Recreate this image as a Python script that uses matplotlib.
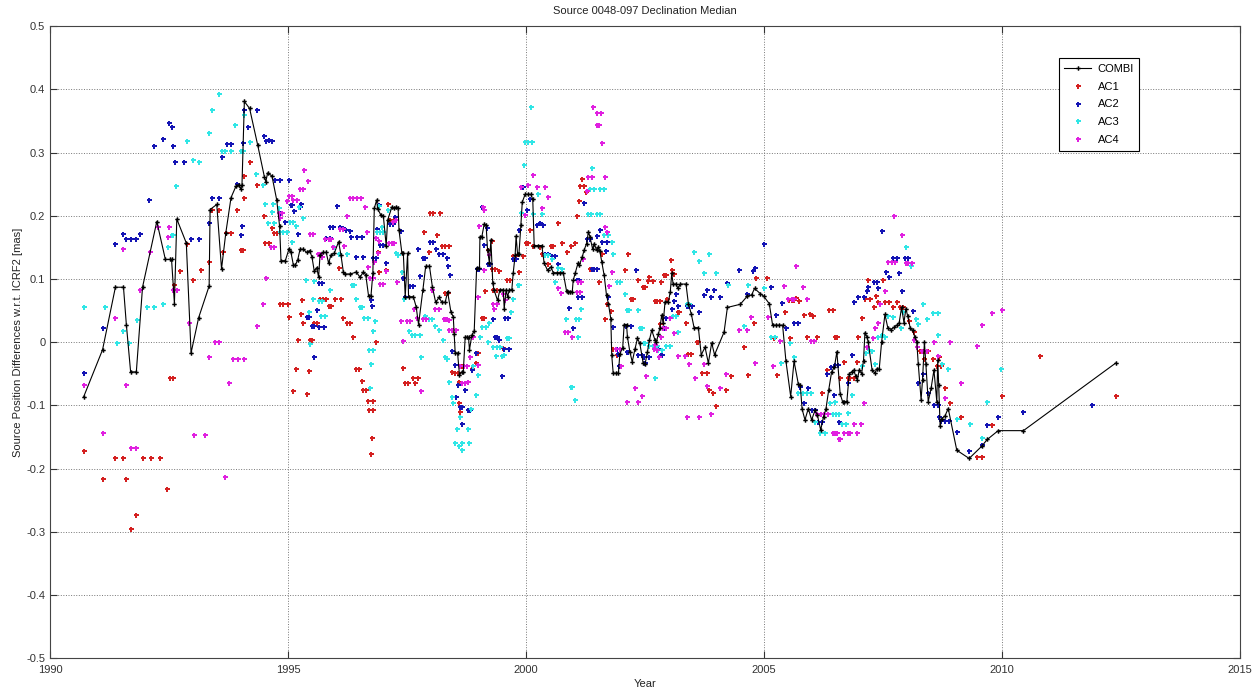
import matplotlib
matplotlib.use("Agg")
import matplotlib.pyplot as plt
from matplotlib.ticker import FormatStrFormatter

plt.rcParams['font.family'] = ['Liberation Sans', 'DejaVu Sans']

# COMBI median series (year, mas)
combi = [
    (1990.70, -0.087), (1991.10, -0.012), (1991.37, 0.087), (1991.54, 0.087), (1991.60, 0.028),
    (1991.69, -0.047), (1991.81, -0.047), (1991.94, 0.087), (1992.24, 0.191), (1992.42, 0.131),
    (1992.52, 0.131), (1992.55, 0.131), (1992.61, 0.061), (1992.66, 0.195), (1992.86, 0.157),
    (1992.96, -0.017), (1993.12, 0.039), (1993.34, 0.089), (1993.36, 0.210), (1993.50, 0.218),
    (1993.60, 0.116), (1993.69, 0.173), (1993.80, 0.229), (1993.91, 0.248), (1993.96, 0.249),
    (1994.00, 0.243), (1994.03, 0.249), (1994.08, 0.381), (1994.19, 0.370), (1994.36, 0.312),
    (1994.50, 0.262), (1994.53, 0.254), (1994.57, 0.268), (1994.66, 0.263), (1994.76, 0.225),
    (1994.82, 0.184), (1994.85, 0.129), (1994.94, 0.129), (1995.02, 0.148), (1995.06, 0.142),
    (1995.11, 0.122), (1995.15, 0.122), (1995.20, 0.130), (1995.25, 0.147), (1995.32, 0.147),
    (1995.39, 0.142), (1995.45, 0.145), (1995.50, 0.135), (1995.55, 0.112), (1995.60, 0.118),
    (1995.64, 0.103), (1995.67, 0.138), (1995.73, 0.142), (1995.80, 0.142), (1995.85, 0.125),
    (1995.90, 0.138), (1995.97, 0.141), (1996.06, 0.159), (1996.11, 0.138), (1996.16, 0.111),
    (1996.20, 0.108), (1996.31, 0.108), (1996.43, 0.111), (1996.51, 0.103), (1996.58, 0.111),
    (1996.63, 0.107), (1996.69, 0.073), (1996.74, 0.073), (1996.78, 0.109), (1996.81, 0.212),
    (1996.86, 0.225), (1996.88, 0.211), (1996.95, 0.201), (1997.00, 0.200), (1997.06, 0.153),
    (1997.09, 0.193), (1997.18, 0.214), (1997.22, 0.212), (1997.27, 0.214), (1997.31, 0.213),
    (1997.33, 0.177), (1997.39, 0.141), (1997.42, 0.141), (1997.46, 0.072), (1997.51, 0.141),
    (1997.53, 0.072), (1997.63, 0.072), (1997.69, 0.056), (1997.74, 0.028), (1997.83, 0.082),
    (1997.89, 0.120), (1997.97, 0.120), (1998.03, 0.088), (1998.10, 0.063), (1998.17, 0.071),
    (1998.23, 0.063), (1998.30, 0.063), (1998.35, 0.080), (1998.42, 0.048), (1998.47, 0.040),
    (1998.49, 0.013), (1998.51, -0.017), (1998.56, -0.017), (1998.60, -0.052), (1998.65, -0.047),
    (1998.68, -0.047), (1998.72, 0.008), (1998.75, 0.008), (1998.79, 0.008), (1998.81, -0.012),
    (1998.86, 0.011), (1998.91, 0.018), (1998.96, 0.117), (1999.02, 0.117), (1999.03, 0.167),
    (1999.07, 0.167), (1999.12, 0.187), (1999.16, 0.185), (1999.19, 0.146), (1999.23, 0.125),
    (1999.26, 0.162), (1999.30, 0.093), (1999.33, 0.082), (1999.40, 0.066), (1999.45, 0.083),
    (1999.52, 0.083), (1999.54, 0.053), (1999.58, 0.083), (1999.61, 0.072), (1999.65, 0.083),
    (1999.70, 0.083), (1999.73, 0.110), (1999.77, 0.138), (1999.79, 0.168), (1999.82, 0.140),
    (1999.85, 0.140), (1999.89, 0.185), (1999.92, 0.222), (1999.98, 0.234), (2000.04, 0.234),
    (2000.10, 0.234), (2000.14, 0.226), (2000.17, 0.153), (2000.25, 0.153), (2000.33, 0.153),
    (2000.38, 0.125), (2000.45, 0.114), (2000.52, 0.119), (2000.57, 0.110), (2000.64, 0.110),
    (2000.71, 0.110), (2000.78, 0.110), (2000.85, 0.081), (2000.89, 0.080), (2000.92, 0.080),
    (2000.97, 0.080), (2000.99, 0.098), (2001.03, 0.109), (2001.09, 0.125), (2001.12, 0.122),
    (2001.18, 0.135), (2001.22, 0.146), (2001.27, 0.156), (2001.31, 0.175), (2001.34, 0.167),
    (2001.40, 0.147), (2001.43, 0.156), (2001.48, 0.146), (2001.52, 0.151), (2001.55, 0.144),
    (2001.59, 0.127), (2001.64, 0.106), (2001.69, 0.074), (2001.73, 0.061), (2001.78, 0.037),
    (2001.80, -0.021), (2001.83, -0.049), (2001.88, -0.049), (2001.94, -0.049), (2001.97, -0.018),
    (2002.03, -0.009), (2002.06, 0.028), (2002.11, 0.028), (2002.13, 0.008), (2002.18, -0.015),
    (2002.23, -0.031), (2002.29, -0.010), (2002.34, 0.006), (2002.39, -0.002), (2002.46, -0.033),
    (2002.50, -0.035), (2002.55, -0.015), (2002.59, 0.003), (2002.64, 0.019), (2002.71, 0.003),
    (2002.74, 0.001), (2002.78, 0.013), (2002.81, 0.022), (2002.85, 0.043), (2002.88, 0.030),
    (2002.92, 0.064), (2002.99, 0.064), (2003.03, 0.080), (2003.06, 0.109), (2003.09, 0.092),
    (2003.15, 0.092), (2003.19, 0.085), (2003.24, 0.092), (2003.36, 0.092), (2003.41, 0.061),
    (2003.47, 0.045), (2003.53, 0.023), (2003.62, 0.023), (2003.68, -0.020), (2003.76, -0.008),
    (2003.83, -0.033), (2003.90, -0.001), (2003.96, -0.020), (2004.16, 0.016), (2004.23, 0.055),
    (2004.50, 0.060), (2004.65, 0.073), (2004.74, 0.075), (2004.80, 0.085), (2004.92, 0.077),
    (2004.99, 0.073), (2005.11, 0.061), (2005.18, 0.027), (2005.25, 0.027), (2005.32, 0.027),
    (2005.39, 0.027), (2005.46, -0.030), (2005.56, -0.086), (2005.63, -0.030), (2005.72, -0.066),
    (2005.76, -0.067), (2005.80, -0.106), (2005.86, -0.123), (2005.93, -0.105), (2006.00, -0.123),
    (2006.07, -0.108), (2006.12, -0.115), (2006.19, -0.139), (2006.25, -0.118), (2006.30, -0.106),
    (2006.36, -0.075), (2006.42, -0.047), (2006.48, -0.039), (2006.53, -0.015), (2006.60, -0.082),
    (2006.65, -0.094), (2006.69, -0.094), (2006.74, -0.094), (2006.79, -0.050), (2006.84, -0.047),
    (2006.88, -0.044), (2006.93, -0.054), (2006.96, -0.060), (2007.00, -0.044), (2007.05, -0.050),
    (2007.09, -0.029), (2007.12, 0.015), (2007.16, 0.009), (2007.19, 0.000), (2007.27, -0.044),
    (2007.33, -0.049), (2007.37, -0.042), (2007.42, -0.043), (2007.47, 0.000), (2007.54, 0.044),
    (2007.60, 0.023), (2007.67, 0.020), (2007.74, 0.024), (2007.79, 0.027), (2007.84, 0.031),
    (2007.89, 0.055), (2007.94, 0.031), (2007.98, 0.053), (2008.02, 0.041), (2008.07, 0.023),
    (2008.12, 0.019), (2008.17, 0.008), (2008.21, 0.000), (2008.24, -0.034), (2008.30, -0.091),
    (2008.33, -0.060), (2008.37, 0.000), (2008.40, -0.034), (2008.45, -0.094), (2008.51, -0.073),
    (2008.57, -0.044), (2008.63, -0.094), (2008.65, -0.028), (2008.67, -0.068), (2008.70, -0.133),
    (2008.73, -0.121), (2008.80, -0.117), (2008.87, -0.105), (2009.05, -0.171), (2009.31, -0.184),
    (2009.57, -0.165), (2009.69, -0.154), (2009.92, -0.140), (2010.45, -0.140), (2012.39, -0.033),
]

ac1 = [
    (1990.70, -0.173), (1991.10, -0.217), (1991.37, -0.183), (1991.54, -0.183), (1991.60, -0.217),
    (1991.69, -0.296), (1991.81, -0.274), (1991.94, -0.183), (1992.12, -0.183), (1992.31, -0.183),
    (1992.46, -0.233), (1992.52, -0.057), (1992.59, -0.057), (1992.61, 0.090), (1992.72, 0.112),
    (1992.87, 0.155), (1993.01, 0.099), (1993.17, 0.115), (1993.34, 0.127), (1993.40, 0.210),
    (1993.54, 0.210), (1993.64, 0.143), (1993.69, 0.173), (1993.80, 0.173), (1993.92, 0.210),
    (1994.01, 0.146), (1994.06, 0.146), (1994.08, 0.229), (1994.08, 0.263), (1994.20, 0.285),
    (1994.34, 0.249), (1994.50, 0.199), (1994.52, 0.157), (1994.59, 0.157), (1994.66, 0.181),
    (1994.71, 0.173), (1994.76, 0.173), (1994.82, 0.061), (1994.90, 0.061), (1994.99, 0.061),
    (1995.02, 0.040), (1995.10, -0.077), (1995.17, -0.043), (1995.20, 0.004), (1995.27, 0.045),
    (1995.30, 0.066), (1995.32, 0.031), (1995.39, -0.082), (1995.44, -0.046), (1995.46, 0.004),
    (1995.50, 0.004), (1995.55, 0.031), (1995.60, 0.031), (1995.67, 0.068), (1995.74, 0.068),
    (1995.80, 0.068), (1995.86, 0.057), (1995.90, 0.057), (1995.99, 0.068), (1996.06, 0.118),
    (1996.11, 0.068), (1996.16, 0.038), (1996.23, 0.030), (1996.29, 0.030), (1996.36, 0.008),
    (1996.43, -0.043), (1996.48, -0.043), (1996.55, -0.061), (1996.58, -0.075), (1996.64, -0.075),
    (1996.68, -0.093), (1996.79, -0.093), (1996.70, -0.107), (1996.78, -0.107), (1996.76, -0.151),
    (1996.74, -0.177), (1996.85, 0.000), (1996.88, 0.143), (1996.91, 0.111), (1997.06, 0.114),
    (1997.09, 0.218), (1997.14, 0.194), (1997.23, 0.194), (1997.41, -0.041), (1997.46, -0.065),
    (1997.51, -0.065), (1997.62, -0.057), (1997.67, -0.065), (1997.72, -0.057), (1997.86, 0.175),
    (1997.95, 0.143), (1997.98, 0.204), (1998.05, 0.204), (1998.20, 0.205), (1998.12, 0.170),
    (1998.23, 0.152), (1998.30, 0.152), (1998.37, 0.152), (1998.35, 0.078), (1998.30, 0.078),
    (1998.47, 0.019), (1998.52, 0.019), (1998.45, -0.047), (1998.51, -0.048), (1998.56, -0.048),
    (1998.60, -0.063), (1998.58, -0.096), (1998.61, -0.110), (1998.65, -0.038), (1998.70, -0.038),
    (1998.75, -0.038), (1998.77, -0.063), (1998.86, -0.043), (1998.95, -0.033), (1998.98, -0.017),
    (1999.07, 0.039), (1999.12, 0.039), (1999.14, 0.081), (1999.19, 0.146), (1999.28, 0.160),
    (1999.28, 0.116), (1999.35, 0.116), (1999.31, 0.082), (1999.38, 0.082), (1999.44, 0.112),
    (1999.52, -0.009), (1999.59, 0.099), (1999.66, 0.099), (1999.73, 0.136), (1999.79, 0.136),
    (1999.85, 0.111), (1999.94, 0.137), (1999.99, 0.157), (2000.05, 0.157), (2000.08, 0.177),
    (2000.15, 0.153), (2000.29, 0.151), (2000.33, 0.140), (2000.45, 0.123), (2000.52, 0.152),
    (2000.57, 0.152), (2000.68, 0.189), (2000.75, 0.157), (2000.85, 0.143), (2000.94, 0.152),
    (2001.03, 0.157), (2001.08, 0.199), (2001.12, 0.223), (2001.13, 0.248), (2001.22, 0.248),
    (2001.17, 0.259), (2001.25, 0.238), (2001.34, 0.116), (2001.41, 0.116), (2001.48, 0.116),
    (2001.53, 0.095), (2001.59, 0.140), (2001.66, 0.037), (2001.70, 0.061), (2001.78, 0.050),
    (2001.83, -0.010), (2001.92, -0.020), (2002.08, 0.115), (2002.14, 0.139), (2002.20, 0.069),
    (2002.25, 0.069), (2002.36, 0.099), (2002.45, 0.088), (2002.50, 0.088), (2002.57, 0.097),
    (2002.59, 0.103), (2002.66, 0.097), (2002.71, 0.065), (2002.76, 0.065), (2002.82, 0.065),
    (2002.84, 0.095), (2002.90, 0.107), (2002.94, 0.107), (2003.04, 0.130), (2003.07, 0.114),
    (2003.11, 0.108), (2002.97, 0.069), (2002.82, 0.029), (2003.19, 0.048), (2003.22, 0.048),
    (2003.36, 0.031), (2003.40, -0.018), (2003.47, -0.018), (2003.59, 0.000), (2003.62, 0.000),
    (2003.69, -0.048), (2003.80, -0.048), (2003.85, -0.075), (2003.92, -0.081), (2003.99, -0.101),
    (2004.08, -0.072), (2004.20, -0.075), (2004.30, -0.054), (2004.58, -0.007), (2004.67, -0.052),
    (2004.79, 0.030), (2004.83, 0.101), (2005.06, 0.101), (2005.20, 0.006), (2005.28, -0.052),
    (2005.44, 0.048), (2005.55, 0.006), (2005.53, 0.066), (2005.58, 0.066), (2005.63, 0.066),
    (2005.67, 0.070), (2005.73, 0.065), (2005.83, 0.043), (2005.90, 0.008), (2005.97, 0.045),
    (2006.02, 0.042), (2006.11, 0.008), (2006.21, -0.081), (2006.32, -0.044), (2006.37, 0.051),
    (2006.44, 0.051), (2006.49, 0.008), (2006.54, 0.008), (2006.60, -0.056), (2006.69, -0.031),
    (2006.76, -0.056), (2006.81, -0.056), (2006.88, -0.056), (2006.95, -0.031), (2006.98, 0.008),
    (2007.05, 0.039), (2007.12, 0.068), (2007.18, 0.098), (2007.23, 0.069), (2007.30, 0.055),
    (2007.35, 0.073), (2007.40, 0.064), (2007.49, 0.099), (2007.54, 0.063), (2007.63, 0.063),
    (2007.72, 0.055), (2007.79, 0.063), (2007.86, 0.055), (2007.93, 0.055), (2008.05, 0.034),
    (2008.15, 0.016), (2008.28, -0.014), (2008.37, -0.014), (2008.45, -0.014), (2008.37, -0.027),
    (2008.56, -0.027), (2008.63, -0.038), (2008.68, -0.023), (2008.72, -0.038), (2008.80, -0.073),
    (2008.91, -0.096), (2009.14, -0.119), (2009.47, -0.181), (2009.59, -0.181), (2009.80, -0.131),
    (2010.01, -0.085), (2010.80, -0.022), (2012.39, -0.085),
]

ac2 = [
    (1990.70, -0.049), (1991.10, 0.023), (1991.37, 0.156), (1991.54, 0.172), (1991.60, 0.163),
    (1991.70, 0.163), (1991.81, 0.163), (1991.89, 0.172), (1992.08, 0.225), (1992.19, 0.311),
    (1992.38, 0.321), (1992.49, 0.347), (1992.56, 0.341), (1992.59, 0.311), (1992.63, 0.286),
    (1992.82, 0.286), (1992.96, 0.163), (1993.12, 0.163), (1993.34, 0.188), (1993.40, 0.229),
    (1993.54, 0.229), (1993.62, 0.293), (1993.71, 0.314), (1993.80, 0.314), (1993.92, 0.250),
    (1994.01, 0.170), (1994.04, 0.184), (1994.06, 0.315), (1994.08, 0.368), (1994.15, 0.341),
    (1994.34, 0.368), (1994.50, 0.326), (1994.54, 0.318), (1994.59, 0.320), (1994.66, 0.318),
    (1994.73, 0.257), (1994.82, 0.257), (1994.83, 0.196), (1994.85, 0.204), (1994.94, 0.190),
    (1995.01, 0.257), (1995.06, 0.217), (1995.09, 0.217), (1995.13, 0.207), (1995.20, 0.172),
    (1995.24, 0.214), (1995.27, 0.218), (1995.40, 0.040), (1995.44, 0.040), (1995.50, 0.025),
    (1995.55, 0.025), (1995.60, 0.051), (1995.65, 0.024), (1995.76, 0.024), (1995.55, -0.024),
    (1995.65, 0.094), (1995.72, 0.094), (1995.80, 0.165), (1995.87, 0.165), (1995.88, 0.182),
    (1995.95, 0.182), (1996.02, 0.215), (1996.09, 0.183), (1996.15, 0.180), (1996.22, 0.178),
    (1996.29, 0.176), (1996.33, 0.167), (1996.44, 0.167), (1996.55, 0.167), (1996.43, 0.135),
    (1996.58, 0.135), (1996.76, 0.057), (1996.74, 0.066), (1996.79, 0.134), (1996.85, 0.134),
    (1996.86, 0.179), (1996.90, 0.217), (1996.93, 0.154), (1997.00, 0.154), (1997.06, 0.126),
    (1997.13, 0.187), (1997.20, 0.187), (1997.25, 0.198), (1997.37, 0.176), (1997.41, 0.102),
    (1997.46, 0.072), (1997.56, 0.089), (1997.63, 0.089), (1997.72, 0.147), (1997.77, 0.105),
    (1997.83, 0.133), (1997.88, 0.133), (1997.98, 0.159), (1998.04, 0.159), (1998.10, 0.148),
    (1998.18, 0.140), (1998.25, 0.140), (1998.33, 0.133), (1998.35, 0.120), (1998.40, 0.106),
    (1998.45, -0.014), (1998.51, -0.036), (1998.56, -0.068), (1998.52, -0.086), (1998.61, -0.103),
    (1998.65, -0.103), (1998.66, -0.129), (1998.72, -0.076), (1998.77, -0.107), (1998.82, -0.107),
    (1998.86, -0.044), (1998.94, -0.017), (1998.96, 0.116), (1999.02, 0.116), (1999.08, 0.214),
    (1999.12, 0.154), (1999.17, 0.181), (1999.19, 0.124), (1999.24, 0.124), (1999.31, 0.036),
    (1999.35, 0.008), (1999.38, 0.008), (1999.43, 0.004), (1999.50, -0.054), (1999.54, -0.010),
    (1999.65, -0.010), (1999.56, 0.038), (1999.63, 0.038), (1999.73, 0.131), (1999.79, 0.131),
    (1999.85, 0.178), (1999.94, 0.246), (2000.01, 0.210), (2000.08, 0.227), (2000.22, 0.185),
    (2000.29, 0.188), (2000.35, 0.185), (2000.40, 0.139), (2000.47, 0.139), (2000.54, 0.137),
    (2000.61, 0.137), (2000.68, 0.124), (2000.91, 0.054), (2000.99, 0.023), (2001.06, 0.099),
    (2001.12, 0.099), (2001.10, 0.072), (2001.17, 0.072), (2001.22, 0.220), (2001.29, 0.163),
    (2001.34, 0.163), (2001.38, 0.116), (2001.43, 0.116), (2001.48, 0.116), (2001.50, 0.168),
    (2001.55, 0.177), (2001.60, 0.159), (2001.70, 0.159), (2001.67, 0.144), (2001.73, 0.072),
    (2001.82, 0.024), (2001.90, -0.010), (2001.97, -0.010), (2001.94, -0.018), (2001.95, -0.038),
    (2002.10, 0.025), (2002.12, -0.015), (2002.15, -0.015), (2002.21, 0.025), (2002.30, 0.114),
    (2002.36, -0.020), (2002.43, -0.020), (2002.47, -0.023), (2002.50, -0.033), (2002.59, -0.023),
    (2002.78, -0.010), (2002.83, -0.020), (2002.85, -0.020), (2002.87, 0.023), (2002.92, 0.023),
    (2002.94, 0.039), (2003.06, 0.052), (2003.10, 0.065), (2003.15, 0.076), (2003.20, 0.058),
    (2003.38, 0.058), (2003.43, 0.058), (2003.48, 0.058), (2003.64, 0.048), (2003.73, 0.074),
    (2003.81, 0.083), (2003.94, 0.083), (2003.88, 0.071), (2004.08, 0.071), (2004.22, 0.094),
    (2004.48, 0.114), (2004.76, 0.112), (2004.81, 0.117), (2004.65, 0.077), (2005.00, 0.156),
    (2005.14, 0.088), (2005.25, 0.043), (2005.37, 0.062), (2005.46, 0.023), (2005.62, 0.031),
    (2005.71, 0.031), (2005.76, -0.071), (2005.84, -0.096), (2005.93, -0.072), (2006.00, -0.107),
    (2006.07, -0.107), (2006.14, -0.127), (2006.21, -0.127), (2006.32, -0.050), (2006.40, -0.040),
    (2006.47, -0.084), (2006.57, -0.127), (2006.49, -0.036), (2006.55, -0.036), (2006.84, -0.020),
    (2006.76, -0.064), (2006.90, 0.064), (2006.97, 0.072), (2007.11, 0.071), (2007.16, 0.081),
    (2007.19, 0.088), (2007.32, 0.096), (2007.37, 0.096), (2007.40, 0.085), (2007.47, 0.176),
    (2007.56, 0.111), (2007.63, 0.103), (2007.72, 0.134), (2007.79, 0.134), (2007.84, 0.109),
    (2007.89, 0.081), (2007.96, 0.134), (2008.03, 0.134), (2008.12, 0.050), (2008.24, -0.064),
    (2008.35, -0.051), (2008.44, -0.081), (2008.58, -0.100), (2008.65, -0.100), (2008.68, -0.118),
    (2008.72, -0.124), (2008.80, -0.124), (2008.89, -0.124), (2009.05, -0.142), (2009.31, -0.173),
    (2009.57, -0.163), (2009.69, -0.131), (2009.92, -0.119), (2010.45, -0.110), (2011.90, -0.100),
]

ac3 = [
    (1990.70, 0.056), (1991.16, 0.056), (1991.40, -0.002), (1991.54, 0.018), (1991.65, -0.002),
    (1991.82, 0.035), (1992.03, 0.056), (1992.19, 0.056), (1992.38, 0.060), (1992.47, 0.151),
    (1992.55, 0.169), (1992.59, 0.169), (1992.64, 0.247), (1992.88, 0.318), (1993.01, 0.289),
    (1993.12, 0.286), (1993.33, 0.331), (1993.40, 0.368), (1993.54, 0.393), (1993.61, 0.303),
    (1993.68, 0.303), (1993.80, 0.303), (1993.89, 0.344), (1994.00, 0.303), (1994.06, 0.303),
    (1994.07, 0.360), (1994.19, 0.317), (1994.33, 0.266), (1994.47, 0.249), (1994.52, 0.219),
    (1994.57, 0.189), (1994.66, 0.206), (1994.69, 0.219), (1994.71, 0.189), (1994.80, 0.213),
    (1994.83, 0.175), (1994.90, 0.175), (1994.97, 0.175), (1995.03, 0.190), (1995.10, 0.190),
    (1995.16, 0.184), (1995.08, 0.159), (1995.22, 0.214), (1995.31, 0.197), (1995.38, 0.099),
    (1995.43, 0.048), (1995.46, -0.003), (1995.52, 0.068), (1995.55, 0.097), (1995.64, 0.065),
    (1995.71, 0.065), (1995.69, 0.041), (1995.78, 0.041), (1995.87, 0.083), (1995.97, 0.151),
    (1996.06, 0.140), (1996.23, 0.140), (1996.34, 0.090), (1996.39, 0.090), (1996.43, 0.068),
    (1996.51, 0.055), (1996.56, 0.055), (1996.60, 0.039), (1996.67, 0.039), (1996.69, -0.013),
    (1996.78, -0.013), (1996.74, -0.034), (1996.79, 0.017), (1996.83, 0.034), (1996.71, -0.072),
    (1996.86, 0.174), (1996.93, 0.174), (1997.00, 0.174), (1996.90, 0.215), (1996.97, 0.183),
    (1997.09, 0.209), (1997.27, 0.141), (1997.31, 0.138), (1997.39, 0.111), (1997.44, 0.068),
    (1997.53, 0.017), (1997.60, 0.012), (1997.67, 0.012), (1997.77, 0.012), (1997.79, -0.024),
    (1997.88, 0.042), (1997.95, 0.037), (1998.02, 0.037), (1998.09, 0.025), (1998.16, 0.019),
    (1998.26, 0.004), (1998.33, -0.027), (1998.37, -0.063), (1998.30, -0.023), (1998.38, -0.063),
    (1998.45, -0.086), (1998.47, -0.096), (1998.54, -0.137), (1998.61, -0.118), (1998.77, -0.137),
    (1998.51, -0.159), (1998.65, -0.159), (1998.79, -0.159), (1998.58, -0.165), (1998.66, -0.171),
    (1998.84, -0.106), (1998.94, -0.084), (1998.88, -0.038), (1998.98, -0.052), (1999.07, 0.024),
    (1999.15, 0.024), (1999.03, 0.008), (1999.23, 0.030), (1999.31, -0.007), (1999.38, -0.007),
    (1999.45, -0.007), (1999.36, -0.022), (1999.49, -0.022), (1999.54, -0.020), (1999.19, 0.000),
    (1999.59, 0.007), (1999.64, 0.007), (1999.68, 0.048), (1999.73, 0.069), (1999.82, 0.090),
    (1999.86, 0.090), (1999.89, 0.204), (1999.96, 0.281), (1999.98, 0.317), (2000.05, 0.317),
    (2000.12, 0.317), (2000.10, 0.372), (2000.15, 0.203), (2000.24, 0.234), (2000.33, 0.203),
    (2000.40, 0.138), (2000.47, 0.138), (2000.54, 0.131), (2000.61, 0.095), (2000.67, 0.118),
    (2000.75, 0.116), (2000.83, 0.037), (2000.94, -0.071), (2000.97, -0.071), (2001.03, -0.091),
    (2001.05, 0.037), (2001.11, 0.037), (2001.09, 0.009), (2001.16, 0.052), (2001.30, 0.203),
    (2001.37, 0.203), (2001.34, 0.243), (2001.43, 0.243), (2001.39, 0.276), (2001.55, 0.243),
    (2001.64, 0.243), (2001.48, 0.203), (2001.55, 0.203), (2001.64, 0.169), (2001.72, 0.169),
    (2001.80, 0.159), (2001.83, 0.140), (2001.92, 0.095), (2001.97, 0.095), (2002.11, 0.051),
    (2002.16, 0.051), (2002.07, 0.076), (2002.36, 0.051), (2002.43, 0.022), (2002.48, -0.001),
    (2002.40, 0.022), (2002.50, -0.002), (2002.59, -0.006), (2002.67, -0.006), (2002.75, -0.006),
    (2002.71, -0.057), (2002.78, -0.013), (2002.85, -0.013), (2002.95, -0.006), (2003.03, -0.006),
    (2003.08, 0.041), (2003.15, 0.041), (2003.20, 0.016), (2003.38, 0.061), (2003.43, 0.061),
    (2003.52, 0.143), (2003.64, 0.129), (2003.74, 0.110), (2003.85, 0.139), (2003.99, 0.110),
    (2004.25, 0.090), (2004.58, 0.025), (2004.67, 0.090), (2004.99, 0.085), (2005.14, 0.009),
    (2005.23, 0.009), (2005.35, -0.033), (2005.55, -0.001), (2005.63, -0.024), (2005.72, -0.080),
    (2005.81, -0.080), (2005.91, -0.080), (2005.98, -0.080), (2006.07, -0.127), (2006.17, -0.143),
    (2006.28, -0.143), (2006.39, -0.096), (2006.44, -0.113), (2006.52, -0.113), (2006.58, -0.113),
    (2006.49, -0.094), (2006.63, -0.130), (2006.72, -0.130), (2006.77, -0.112), (2006.84, -0.084),
    (2007.05, -0.038), (2007.14, -0.017), (2007.21, -0.013), (2007.26, -0.014), (2007.33, -0.034),
    (2007.39, 0.009), (2007.47, 0.011), (2007.54, 0.009), (2007.60, 0.041), (2007.72, 0.040),
    (2007.88, 0.022), (2007.93, 0.048), (2007.98, 0.151), (2008.09, 0.120), (2008.19, 0.037),
    (2008.24, 0.029), (2008.35, 0.060), (2008.42, 0.037), (2008.54, 0.046), (2008.65, 0.046),
    (2008.66, 0.011), (2008.73, -0.034), (2008.87, -0.042), (2009.05, -0.122), (2009.33, -0.130),
    (2009.57, -0.152), (2009.69, -0.094), (2009.98, -0.042),
]

ac4 = [
    (1990.70, -0.067), (1991.10, -0.143), (1991.37, 0.038), (1991.54, 0.147), (1991.60, -0.067),
    (1991.69, -0.167), (1991.81, -0.167), (1991.89, 0.083), (1992.09, 0.143), (1992.26, 0.182),
    (1992.47, 0.166), (1992.50, 0.182), (1992.57, 0.083), (1992.61, 0.083), (1992.66, 0.083),
    (1992.91, 0.030), (1993.03, -0.147), (1993.26, -0.147), (1993.34, -0.024), (1993.47, 0.000),
    (1993.55, 0.000), (1993.68, -0.214), (1993.75, -0.065), (1993.84, -0.026), (1993.94, -0.026),
    (1994.08, -0.026), (1994.34, 0.025), (1994.48, 0.061), (1994.54, 0.101), (1994.64, 0.150),
    (1994.71, 0.150), (1994.80, 0.205), (1994.87, 0.205), (1994.82, 0.196), (1994.97, 0.224),
    (1995.01, 0.231), (1995.08, 0.231), (1995.10, 0.225), (1995.18, 0.225), (1995.24, 0.242),
    (1995.31, 0.242), (1995.34, 0.273), (1995.41, 0.255), (1995.46, 0.171), (1995.52, 0.171),
    (1995.62, 0.139), (1995.67, 0.139), (1995.71, 0.135), (1995.78, 0.164), (1995.85, 0.164),
    (1995.90, 0.164), (1995.94, 0.150), (1996.08, 0.179), (1996.16, 0.179), (1996.18, 0.152),
    (1996.23, 0.200), (1996.30, 0.228), (1996.37, 0.228), (1996.44, 0.228), (1996.53, 0.228),
    (1996.62, 0.214), (1996.65, 0.175), (1996.67, 0.119), (1996.72, 0.102), (1996.78, 0.102),
    (1996.81, 0.127), (1996.85, 0.165), (1996.90, 0.160), (1996.88, 0.141), (1996.93, 0.092),
    (1997.00, 0.092), (1997.06, 0.113), (1997.11, 0.157), (1997.18, 0.157), (1997.23, 0.157),
    (1997.21, 0.190), (1997.27, 0.194), (1997.28, 0.095), (1997.37, 0.034), (1997.42, 0.002),
    (1997.49, 0.034), (1997.55, 0.034), (1997.65, 0.053), (1997.70, 0.039), (1997.79, -0.077),
    (1997.83, 0.037), (1997.90, 0.037), (1998.02, 0.082), (1998.09, 0.052), (1998.16, 0.052),
    (1998.28, 0.036), (1998.33, 0.036), (1998.37, 0.035), (1998.30, 0.037), (1998.37, 0.019),
    (1998.44, 0.019), (1998.52, 0.019), (1998.61, -0.038), (1998.70, -0.038), (1998.75, -0.038),
    (1998.66, -0.064), (1998.72, -0.064), (1998.77, -0.063), (1998.82, -0.023), (1998.98, -0.036),
    (1998.89, 0.009), (1998.98, 0.072), (1999.01, 0.184), (1999.09, 0.214), (1999.11, 0.209),
    (1999.12, 0.114), (1999.21, 0.138), (1999.31, 0.061), (1999.38, 0.061), (1999.33, 0.053),
    (1999.52, 0.076), (1999.56, 0.066), (1999.98, 0.201), (1999.89, 0.246), (2000.04, 0.249),
    (2000.15, 0.265), (2000.22, 0.246), (2000.39, 0.246), (2000.33, 0.213), (2000.47, 0.230),
    (2000.67, 0.085), (2000.73, 0.078), (2000.82, 0.016), (2000.89, 0.016), (2000.97, 0.009),
    (2001.10, 0.095), (2001.16, 0.095), (2001.06, 0.080), (2001.13, 0.080), (2001.20, 0.131),
    (2001.27, 0.239), (2001.31, 0.262), (2001.38, 0.262), (2001.40, 0.372), (2001.48, 0.363),
    (2001.57, 0.363), (2001.48, 0.343), (2001.54, 0.343), (2001.60, 0.315), (2001.65, 0.261),
    (2001.66, 0.182), (2001.70, 0.175), (2001.75, 0.089), (2001.80, 0.111), (2001.88, -0.010),
    (2001.97, -0.010), (2001.99, -0.038), (2002.12, -0.094), (2002.36, -0.094), (2002.28, -0.073),
    (2002.44, -0.085), (2002.52, -0.054), (2002.68, -0.010), (2002.71, -0.005), (2002.76, -0.013),
    (2002.80, -0.023), (2002.83, 0.009), (2002.87, 0.022), (2002.94, 0.022), (2003.03, 0.038),
    (2003.10, 0.014), (2003.19, -0.022), (2003.33, -0.022), (2003.43, -0.035), (2003.54, -0.056),
    (2003.73, -0.035), (2003.38, -0.118), (2003.64, -0.118), (2003.88, -0.114), (2003.80, -0.070),
    (2004.08, -0.073), (2004.20, -0.051), (2004.48, 0.020), (2004.65, 0.020), (2004.73, 0.040),
    (2004.81, -0.033), (2005.09, 0.040), (2005.19, -0.038), (2005.34, 0.002), (2005.42, 0.089),
    (2005.50, 0.069), (2005.58, 0.069), (2005.63, 0.069), (2005.67, 0.120), (2005.81, 0.088),
    (2005.90, 0.069), (2005.98, 0.002), (2006.05, 0.002), (2006.12, -0.113), (2006.19, -0.113),
    (2006.26, -0.113), (2006.35, -0.113), (2006.44, -0.143), (2006.49, -0.143), (2006.54, -0.143),
    (2006.58, -0.154), (2006.60, -0.154), (2006.69, -0.143), (2006.76, -0.143), (2006.81, -0.143),
    (2006.88, -0.130), (2006.95, -0.143), (2007.04, -0.130), (2007.11, -0.096), (2007.16, -0.007),
    (2007.28, 0.006), (2007.33, 0.023), (2007.39, 0.030), (2007.44, 0.061), (2007.54, 0.081),
    (2007.61, 0.127), (2007.68, 0.127), (2007.75, 0.127), (2007.74, 0.199), (2007.89, 0.170),
    (2007.98, 0.125), (2008.03, 0.125), (2008.10, 0.125), (2008.16, 0.004), (2008.21, -0.008),
    (2008.31, -0.014), (2008.42, -0.014), (2008.58, 0.000), (2008.66, -0.022), (2008.80, -0.089),
    (2008.91, 0.000), (2009.14, -0.064), (2009.47, -0.006), (2009.59, 0.027), (2009.80, 0.046),
    (2010.01, 0.051),
]

fig = plt.figure(figsize=(12.55, 6.92), dpi=100)
ax = fig.add_axes([0.040, 0.049, 0.948, 0.913])

cx, cy = zip(*combi)
ax.plot(cx, cy, '-', color='black', lw=0.8, marker='P', ms=3.2, mew=0, label='COMBI', zorder=4)

series = [(ac1, '#d42020', 'AC1'), (ac2, '#1414b4', 'AC2'),
          (ac3, '#30e6e6', 'AC3'), (ac4, '#e020e0', 'AC4')]
for data, col, name in series:
    xs, ys = zip(*data)
    ax.plot(xs, ys, linestyle='none', marker='P', ms=3.6, mew=0, color=col, label=name, zorder=3)

ax.set_xlim(1990, 2015)
ax.set_ylim(-0.5, 0.5)
ax.set_xticks(range(1990, 2016, 5))
ax.set_yticks([i / 10 for i in range(-5, 6)])
ax.yaxis.set_major_formatter(FormatStrFormatter('%g'))
ax.tick_params(direction='in', top=True, right=True, labelsize=8, colors='#333333', length=5)
ax.tick_params(axis='x', pad=5)
for s in ax.spines.values():
    s.set_color('#444444')
    s.set_linewidth(0.8)
ax.grid(True, linestyle=':', color='#777777', linewidth=0.7)

ax.set_title('Source 0048-097 Declination Median', fontsize=8, color='#222222', pad=9)
ax.set_xlabel('Year', fontsize=8, color='#222222', labelpad=3)
ax.set_ylabel('Source Position Differences w.r.t. ICRF2 [mas]', fontsize=8, color='#222222', labelpad=2)

leg = ax.legend(loc='upper left', bbox_to_anchor=(0.843, 0.958), fontsize=8, fancybox=False,
                framealpha=1, edgecolor='black', borderpad=0.5, handlelength=2.4,
                labelspacing=0.7, handletextpad=0.6)
leg.get_frame().set_linewidth(0.8)

fig.savefig('out.png', dpi=100)
